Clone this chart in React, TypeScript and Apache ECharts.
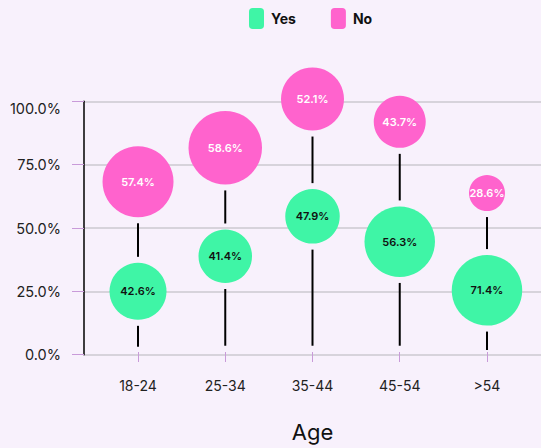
import React, { useEffect, useRef } from "react";
import * as echarts from "echarts";

const categories = ["18-24", "25-34", "35-44", "45-54", ">54"];
// vertical position of each bubble (% on the y axis)
const yesPos = [24.2, 38.2, 54.1, 44.0, 24.6];
const noPos = [67.9, 81.5, 100.9, 91.8, 63.4];
// share shown inside each bubble
const yesShare = [42.6, 41.4, 47.9, 56.3, 71.4];
const noShare = [57.4, 58.6, 52.1, 43.7, 28.6];
// bubble weight
const yesWeight = [57, 53.5, 54.5, 70.5, 70.5];
const noWeight = [71, 73.5, 63, 52, 36];
// bottom end of each stem (% on the y axis)
const stemLow = [2.1, 2.5, 2.5, 2.5, 0.8];
const yTicks = [0, 25, 50, 75, 100];

const GREEN = "#3ff5a6";
const PINK = "#ff63cd";
const BG = "#f8f1fc";
const FONT = "Inter";
const GAP = 6;

export default function App() {
  const ref = useRef<HTMLDivElement>(null);
  useEffect(() => {
    if (!ref.current) return;
    const chart = echarts.init(ref.current, undefined, { renderer: "svg" });
    const option: any = {
      animation: false,
      backgroundColor: BG,
      textStyle: { fontFamily: FONT },
      legend: {
        data: ["Yes", "No"],
        top: 8,
        left: 249,
        padding: 0,
        itemWidth: 15,
        itemHeight: 21,
        itemGap: 35,
        icon: "roundRect",
        textStyle: { fontFamily: FONT, fontSize: 14, fontWeight: "bold", color: "#111", padding: [0, 0, 0, 2] },
      },
      grid: [
        { left: 84, right: 0, top: 101.3, bottom: 93.3 },
        { left: 94.4, right: 10.4, top: 101.3, bottom: 93.3 },
      ],
      xAxis: [
        { gridIndex: 0, type: "value", show: false, min: 0, max: 1 },
        {
          gridIndex: 1,
          type: "category",
          data: categories,
          axisLine: { show: false },
          axisTick: { show: true, alignWithLabel: true, length: 10, lineStyle: { color: "#c99bd9", width: 1 } },
          axisLabel: { margin: 26, fontSize: 14, color: "#222", fontFamily: FONT },
          splitLine: { show: false },
          name: "Age",
          nameLocation: "middle",
          nameGap: 69,
          nameTextStyle: { fontSize: 22, color: "#111", fontFamily: FONT },
        },
      ],
      yAxis: [
        {
          gridIndex: 0,
          type: "value",
          min: yTicks[0],
          max: yTicks[yTicks.length - 1],
          interval: 25,
          axisLine: { show: true, lineStyle: { color: "#000", width: 1.5 } },
          axisTick: { show: true, length: 12, lineStyle: { color: "#c99bd9", width: 1 } },
          axisLabel: {
            margin: 23,
            fontSize: 14.5,
            color: "#222",
            fontFamily: FONT,
            verticalAlignMaxLabel: "top",
            formatter: (v: number) => v.toFixed(1) + "%",
          },
          splitLine: { show: true, lineStyle: { color: "#cdc9d0", width: 1.5 } },
        },
        { gridIndex: 1, type: "value", min: 0, max: 100, show: false },
      ],
      series: [
        {
          type: "custom",
          name: "stems",
          xAxisIndex: 1,
          yAxisIndex: 1,
          clip: false,
          z: 1,
          data: categories.map((_, i) => [i, stemLow[i], yesPos[i], noPos[i], yesWeight[i], noWeight[i]]),
          encode: { x: 0, y: [1, 2, 3] },
          renderItem: (params: any, api: any) => {
            const i = api.value(0);
            const low = api.coord([i, api.value(1)]);
            const yes = api.coord([i, api.value(2)]);
            const no = api.coord([i, api.value(3)]);
            const ry = api.value(4) / 2;
            const rn = api.value(5) / 2;
            const x = yes[0];
            const seg = (y1: number, y2: number) => ({
              type: "line",
              shape: { x1: x, y1, x2: x, y2 },
              style: { stroke: "#000", lineWidth: 2 },
            });
            return {
              type: "group",
              children: [seg(low[1], yes[1] + ry + GAP), seg(yes[1] - ry - GAP, no[1] + rn + GAP)],
            };
          },
        },
        {
          type: "scatter",
          name: "Yes",
          xAxisIndex: 1,
          yAxisIndex: 1,
          clip: false,
          z: 3,
          itemStyle: { color: GREEN, opacity: 1 },
          symbolSize: (v: number[]) => v[2],
          data: categories.map((c, i) => [c, yesPos[i], yesWeight[i], yesShare[i]]),
          label: {
            show: true,
            position: "inside",
            formatter: (p: any) => p.value[3].toFixed(1) + "%",
            fontSize: 11,
            fontWeight: 600,
            color: "#111",
            fontFamily: FONT,
          },
        },
        {
          type: "scatter",
          name: "No",
          xAxisIndex: 1,
          yAxisIndex: 1,
          clip: false,
          z: 3,
          itemStyle: { color: PINK, opacity: 1 },
          symbolSize: (v: number[]) => v[2],
          data: categories.map((c, i) => [c, noPos[i], noWeight[i], noShare[i]]),
          label: {
            show: true,
            position: "inside",
            formatter: (p: any) => p.value[3].toFixed(1) + "%",
            fontSize: 11,
            fontWeight: 600,
            color: "#fff",
            fontFamily: FONT,
          },
        },
      ],
    };
    chart.setOption(option);
    return () => chart.dispose();
  }, []);
  return (
    <div
      ref={ref}
      style={{ position: "fixed", left: 0, top: 0, width: 541, height: 448, background: BG }}
    />
  );
}
